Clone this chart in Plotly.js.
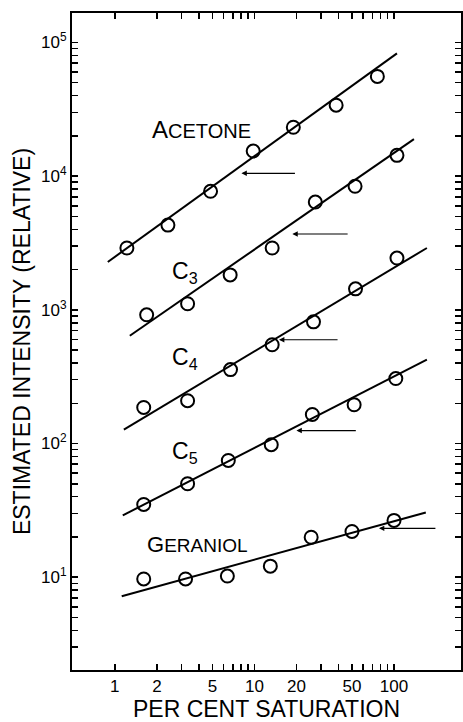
<!DOCTYPE html>
<html>
<head>
<meta charset="utf-8">
<script src="https://cdn.plot.ly/plotly-3.0.1.min.js"></script>
<style>html,body{margin:0;padding:0;background:#fff;}#chart{width:463px;height:722px;}</style>
</head>
<body>
<div id="chart"></div>
<script>
// Per cent saturation (x) and estimated intensity (y)
const acetoneX = [1.22, 2.4, 4.85, 9.8, 19, 38.5, 76];
const acetoneY = [2900, 4300, 7700, 15400, 23200, 33900, 55700];
const acetoneFitX = [0.89, 105];
const acetoneFitY = [2280, 82800];

const c3X = [1.69, 3.32, 6.7, 13.4, 27.3, 52.6, 105];
const c3Y = [918, 1110, 1825, 2900, 6400, 8400, 14300];
const c3FitX = [1.28, 139];
const c3FitY = [640, 18900];

const c4X = [1.61, 3.32, 6.74, 13.4, 26.5, 53, 105];
const c4Y = [186, 209, 357, 548, 813, 1435, 2440];
const c4FitX = [1.16, 172];
const c4FitY = [127, 2900];

const c5X = [1.61, 3.32, 6.5, 13.2, 26, 51.8, 103];
const c5Y = [35, 50, 74.7, 98, 165, 195, 306];
const c5FitX = [1.14, 172];
const c5FitY = [29, 424];

const geraniolX = [1.61, 3.21, 6.4, 13, 25.5, 50, 100];
const geraniolY = [9.7, 9.7, 10.2, 12.1, 19.9, 22, 26.6];
const geraniolFitX = [1.12, 169];
const geraniolFitY = [7.2, 30.5];

// Arrows (horizontal, pointing left)
const arrowY = [10500, 3690, 597, 125, 23.2];
const arrowHeadX = [8.07, 18.7, 15, 20, 78];
const arrowTailX = [20, 47.7, 40.4, 54.6, 203];

// Tick labels
const xTickVals = [1, 2, 5, 10, 20, 50, 100];
const xTickText = ['1', '2', '5', '10', '20', '50', '100'];
const xMinorVals = [3, 4, 6, 7, 8, 9, 30, 40, 60, 70, 80, 90];
const yTickVals = [10, 100, 1000, 10000, 100000];
const yTickText = ['10<sup>1</sup>', '10<sup>2</sup>', '10<sup>3</sup>', '10<sup>4</sup>', '10<sup>5</sup>'];

const yMinorVals = [];
for (let d = 0; d <= 4; d++) {
  for (let m = 2; m <= 9; m++) {
    const v = m * Math.pow(10, d);
    if (v > 2.1) yMinorVals.push(v);
  }
}

const marker = {symbol: 'circle-open', size: 13, color: '#000', line: {width: 2, color: '#000'}};
const lineStyle = {color: '#000', width: 2};
function pts(x, y, name) {
  return {x: x, y: y, mode: 'markers', type: 'scatter', marker: marker, name: name, showlegend: false, hoverinfo: 'skip'};
}
function fit(x, y, name) {
  return {x: x, y: y, mode: 'lines', type: 'scatter', line: lineStyle, name: name, showlegend: false, hoverinfo: 'skip'};
}

const data = [
  fit(acetoneFitX, acetoneFitY, 'Acetone fit'), pts(acetoneX, acetoneY, 'Acetone'),
  fit(c3FitX, c3FitY, 'C3 fit'), pts(c3X, c3Y, 'C3'),
  fit(c4FitX, c4FitY, 'C4 fit'), pts(c4X, c4Y, 'C4'),
  fit(c5FitX, c5FitY, 'C5 fit'), pts(c5X, c5Y, 'C5'),
  fit(geraniolFitX, geraniolFitY, 'Geraniol fit'), pts(geraniolX, geraniolY, 'Geraniol')
];

const annotations = arrowY.map((y, i) => ({
  x: Math.log10(arrowHeadX[i]), y: Math.log10(y),
  ax: Math.log10(arrowTailX[i]), ay: Math.log10(y),
  xref: 'x', yref: 'y', axref: 'x', ayref: 'y',
  text: '', showarrow: true, arrowhead: 2, arrowsize: 0.9, arrowwidth: 1.2, arrowcolor: '#000'
}));

const FONT = 'Liberation Sans, Arial, sans-serif';
const sc = (s, px) => '<span style="font-size:' + px + 'px">' + s + '</span>';
const labels = [
  {text: 'A' + sc('CETONE', 20), x: 4.15, y: 22300, size: 24},
  {text: 'C<sub>3</sub>', x: 3.2, y: 1900, size: 23},
  {text: 'C<sub>4</sub>', x: 3.2, y: 430, size: 23},
  {text: 'C<sub>5</sub>', x: 3.2, y: 86, size: 23},
  {text: 'G' + sc('ERANIOL', 19), x: 3.9, y: 17.6, size: 22}
];
labels.forEach(l => annotations.push({
  x: Math.log10(l.x), y: Math.log10(l.y), xref: 'x', yref: 'y',
  text: l.text, showarrow: false, font: {family: FONT, size: l.size, color: '#000'}
}));

const minorStyle = {ticks: 'inside', ticklen: 6, tickwidth: 1.5, tickcolor: '#000', showgrid: false, tickmode: 'array'};

const layout = {
  width: 463, height: 722,
  margin: {l: 72, r: 2, t: 13, b: 52},
  paper_bgcolor: '#fff', plot_bgcolor: '#fff',
  font: {family: FONT, color: '#000'},
  xaxis: {
    type: 'log', range: [-0.307, 2.48],
    tickmode: 'array', tickvals: xTickVals, ticktext: xTickText,
    ticks: 'inside', ticklen: 6, tickwidth: 1.5, tickcolor: '#000',
    minor: Object.assign({tickvals: xMinorVals}, minorStyle),
    showline: true, linewidth: 2, linecolor: '#000', mirror: 'ticks',
    showgrid: false, zeroline: false,
    tickfont: {size: 17, color: '#000'},
    title: {text: 'PER CENT SATURATION', font: {size: 23, color: '#000'}, standoff: 0}
  },
  yaxis: {
    type: 'log', range: [0.306, 5.22],
    tickmode: 'array', tickvals: yTickVals, ticktext: yTickText,
    ticks: 'inside', ticklen: 6, tickwidth: 1.5, tickcolor: '#000',
    minor: Object.assign({tickvals: yMinorVals}, minorStyle),
    showline: true, linewidth: 2, linecolor: '#000', mirror: 'ticks',
    showgrid: false, zeroline: false,
    tickfont: {size: 17, color: '#000'},
    title: {text: 'ESTIMATED INTENSITY (RELATIVE)', font: {size: 23, color: '#000'}, standoff: 4}
  },
  annotations: annotations,
  showlegend: false
};

Plotly.newPlot('chart', data, layout, {displayModeBar: false, staticPlot: true});
</script>
</body>
</html>
